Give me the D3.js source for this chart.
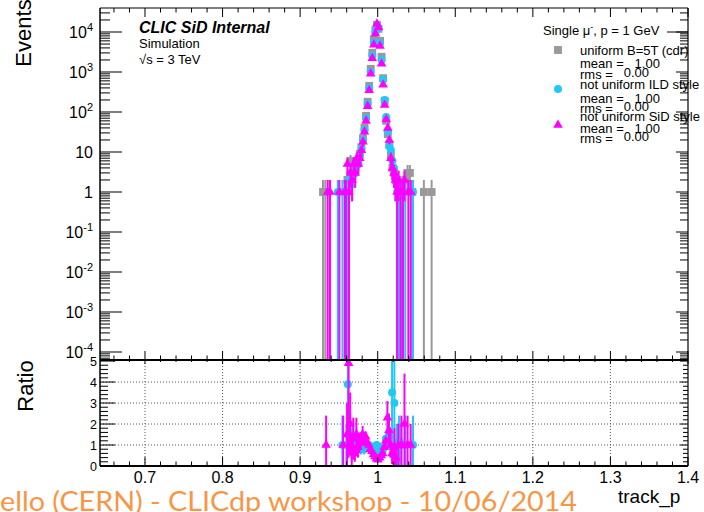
<!DOCTYPE html>
<html><head><meta charset="utf-8">
<script src="https://cdn.jsdelivr.net/npm/d3@7"></script>
<style>
body{margin:0;background:#fff}
svg{display:block}
text{font-family:"Liberation Sans",Arial,Helvetica,sans-serif;white-space:pre}
</style>
</head><body><svg id="c" width="704" height="512"></svg>
<script>
// ---------------- data ----------------
const binCenters = [0.959,0.961,0.963,0.965,0.967,0.969,0.971,0.973,0.975,0.977,
  0.979,0.981,0.983,0.985,0.987,0.989,0.991,0.993,0.995,0.997,0.999,
  1.001,1.003,1.005,1.007,1.009,1.011,1.013,1.015,1.017,1.019,1.021,1.023,1.025,1.027];
const uniformCounts = [1,2,1,6,3,3,4,5,6,9,13,22,40,80,180,450,1200,3000,6500,11000,15000,
  12000,6000,2400,700,190,60,28,15,8,4,3,2,2,1];
const ildCounts = [0,1,2,3,2,3,4,6,5,8,12,20,36,70,160,400,1000,2600,5500,10000,14500,
  12500,5200,2000,650,200,75,32,14,11,6,4,2,1,1];
const sidCounts = [1,5,1,3,2,5,3,7,5,7,11,18,32,60,140,350,900,2200,4800,9000,16000,
  13000,4500,1600,480,150,65,40,20,7,4,3,2,1,2];
const uniformTailP = [0.9295,0.9325,1.0295,1.0325,1.0355,1.0385,1.0415,1.0445,1.0595,1.0695];
const uniformTailN = [1,1,1,1,2,3,3,1,1,1];
const ildTailP = [0.9485,0.9545,1.0305,1.0355,1.0455];
const ildTailN = [1,1,1,1,1];
const sidTailP = [0.9355,0.9385,0.9505,0.9575,1.0295,1.0325,1.0345,1.0395,1.0425];
const sidTailN = [1,1,1,1,1,1,2,1,1];

// ratio panel
const ratioIldP = [0.9545,0.9595,0.9615,0.9645,0.9665,0.9685,0.9705,0.9725,0.9745,0.9765,0.9785,0.9805,0.9825,0.9845,0.9865,0.9885,0.9905,0.9925,0.9945,0.9965,0.9985,1.0005,1.0025,1.0045,1.0065,1.0085,1.0105,1.0125,1.0145,1.0165,1.0185,1.0215,1.0245,1.0275,1.0305,1.0355,1.0455];
const ratioIldR = [1.0,1.0,3.9,1.5,1.0,1.3,0.8,1.2,1.0,1.1,0.9,1.0,0.8,1.1,0.9,1.0,0.95,0.9,0.85,0.9,1.0,0.95,0.7,0.6,0.75,0.9,1.3,1.1,1.5,1.0,3.5,3.0,1.0,1.2,1.0,1.0,1.0];
const ratioIldE = [1.4,1.0,3.5,1.0,0.8,0.7,0.5,0.6,0.5,0.4,0.35,0.3,0.25,0.2,0.15,0.12,0.1,0.08,0.05,0.04,0.03,0.03,0.04,0.05,0.08,0.12,0.2,0.3,0.5,0.6,2.5,2.0,1.0,1.2,1.0,1.4,1.4];
const ratioSidP = [0.9335,0.9555,0.9605,0.9625,0.9645,0.9665,0.9685,0.9705,0.9725,0.9745,0.9765,0.9785,0.9805,0.9825,0.9845,0.9865,0.9885,0.9905,0.9925,0.9945,0.9965,0.9985,1.0005,1.0025,1.0045,1.0065,1.0085,1.0105,1.0125,1.0145,1.0165,1.0185,1.0215,1.0235,1.0265,1.0305,1.0345,1.0385,1.0425];
const ratioSidR = [1.0,1.0,1.5,4.9,2.0,0.8,1.3,0.6,1.5,0.9,1.1,1.2,1.5,1.3,1.4,1.1,1.0,0.8,0.7,0.55,0.45,0.35,0.3,0.4,0.5,0.6,0.9,1.2,2.3,1.7,1.0,0.6,0.9,0.4,1.0,1.0,2.0,1.0,1.0];
const ratioSidE = [1.4,1.4,1.5,4.5,1.5,0.8,1.0,0.4,0.8,0.5,0.5,0.4,0.4,0.3,0.25,0.2,0.15,0.1,0.08,0.05,0.04,0.03,0.04,0.05,0.06,0.08,0.12,0.2,0.8,0.8,0.6,0.5,0.9,0.4,1.0,1.4,2.4,1.4,1.0];

const xTicks = [0.7,0.8,0.9,1.0,1.1,1.2,1.3,1.4];
const xTickLabels = ["0.7","0.8","0.9","1","1.1","1.2","1.3","1.4"];
const yDecades = [-4,-3,-2,-1,0,1,2,3,4];
const yTickBase = ["10","10","10","10","1","10","10","10","10"];
const yTickExp  = ["-4","-3","-2","-1","","","2","3","4"];
const ratioTicks = [0,1,2,3,4,5];
const ratioTickLabels = ["0","1","2","3","4","5"];
const seriesNames = ["uniform B=5T (cdr)","not uniform ILD style","not uniform SiD style"];
const seriesMeans = ["1.00","1.00","1.00"];
const seriesRms = ["0.00","0.00","0.00"];

// ---------------- layout ----------------
const L=100, R=688, T=8, M=360, B=466;
const cGray="#999999", cCyan="#22c8f5", cMag="#ff00ff";
const svg = d3.select("#c");
svg.append("rect").attr("width",704).attr("height",512).attr("fill","#fff");

const x = d3.scaleLinear([0.642,1.4],[L,R]);
const y = d3.scaleLog([Math.pow(10,-4.2),Math.pow(10,4.6)],[M,T]);
const yr = d3.scaleLinear([0,5.05],[B,M]);

const defs = svg.append("defs");
defs.append("clipPath").attr("id","cu").append("rect").attr("x",L).attr("y",T).attr("width",R-L).attr("height",M-T);
defs.append("clipPath").attr("id","cr").append("rect").attr("x",L).attr("y",M).attr("width",R-L).attr("height",B-M);

// ratio grid
const grid = svg.append("g").attr("stroke","#555").attr("stroke-width",1).attr("stroke-dasharray","1,2");
[1,2,3,4].forEach(v=>grid.append("line").attr("x1",L).attr("x2",R).attr("y1",yr(v)).attr("y2",yr(v)));
xTicks.slice(0,-1).forEach(v=>grid.append("line").attr("x1",x(v)).attr("x2",x(v)).attr("y1",M).attr("y2",B));

function symbolPath(kind){
  if(kind==="square") return d3.symbol(d3.symbolSquare,62)();
  if(kind==="circle") return d3.symbol(d3.symbolCircle,50)();
  return d3.symbol(d3.symbolTriangle,40)();
}
const yMin = y.domain()[0];
function drawHist(g, P, N, color, kind){
  const pts = P.map((p,i)=>({p, n:N[i]})).filter(d=>d.n>0);
  g.selectAll(null).data(pts).join("line")
    .attr("x1",d=>x(d.p)).attr("x2",d=>x(d.p))
    .attr("y1",d=>y(d.n+Math.sqrt(d.n)))
    .attr("y2",d=>{const lo=d.n-Math.sqrt(d.n); return lo<=yMin? M : y(lo);})
    .attr("stroke",color).attr("stroke-width",2);
  g.selectAll(null).data(pts).join("path")
    .attr("d",symbolPath(kind))
    .attr("transform",d=>`translate(${x(d.p)},${y(d.n)})`)
    .attr("fill",color);
}
const up = svg.append("g").attr("clip-path","url(#cu)");
const series = [
  {P:binCenters.concat(uniformTailP), N:uniformCounts.concat(uniformTailN), c:cGray, k:"square"},
  {P:binCenters.concat(ildTailP), N:ildCounts.concat(ildTailN), c:cCyan, k:"circle"},
  {P:binCenters.concat(sidTailP), N:sidCounts.concat(sidTailN), c:cMag, k:"triangle"}
];
series.forEach(s=>drawHist(up.append("g"), s.P, s.N, s.c, s.k));

// ratio points
const rg = svg.append("g").attr("clip-path","url(#cr)");
function drawRatio(g,P,Rv,E,color,kind){
  const pts = P.map((p,i)=>({p,r:Rv[i],e:E[i]}));
  g.selectAll(null).data(pts).join("line")
    .attr("x1",d=>x(d.p)).attr("x2",d=>x(d.p))
    .attr("y1",d=>yr(d.r+d.e)).attr("y2",d=>yr(Math.max(0,d.r-d.e)))
    .attr("stroke",color).attr("stroke-width",2);
  g.selectAll(null).data(pts).join("path")
    .attr("d",symbolPath(kind))
    .attr("transform",d=>`translate(${x(d.p)},${yr(d.r)})`)
    .attr("fill",color);
}
drawRatio(rg.append("g"),ratioIldP,ratioIldR,ratioIldE,cCyan,"circle");
drawRatio(rg.append("g"),ratioSidP,ratioSidR,ratioSidE,cMag,"triangle");

// ---------------- axes / frame ----------------
const ax = svg.append("g").attr("stroke","#000").attr("stroke-width",1);
function tick(x1,y1,x2,y2,w){ax.append("line").attr("x1",x1).attr("y1",y1).attr("x2",x2).attr("y2",y2).attr("stroke-width",w||1);}
const xMinor = x.ticks(40);
xMinor.forEach(v=>{
  const major = xTicks.some(t=>Math.abs(t-v)<1e-6);
  const X=x(v);
  tick(X,T,X,T+(major?9:4.5));
  tick(X,M,X,M-(major?9:4.5));
  tick(X,B,X,B-(major?9:4.5));
  tick(X,M,X,M+(major?4:2));
});
for(let d=-5; d<=4; d++){
  for(let k=1;k<=9;k++){
    const v=k*Math.pow(10,d);
    if(v<yMin || v>y.domain()[1]) continue;
    const Y=y(v);
    const major = k===1;
    tick(L,Y,L+(major?22:10),Y);
    tick(R,Y,R-(major?12:8),Y);
  }
}
yr.ticks(25).forEach(v=>{
  if(v>5.001) return;
  const major = ratioTicks.includes(v);
  const Y=yr(v);
  tick(L,Y,L+(major?15:8),Y);
  tick(R,Y,R-(major?8:5),Y);
});
tick(L,T,R,T,1.2);
tick(L,T,L,B,1.5);
tick(R,T,R,B,1.2);
tick(L,M,R,M,2.2);
tick(L,B,R,B,2.2);

// tick labels
const lab = svg.append("g").attr("fill","#000");
yDecades.forEach((d,i)=>{
  const Y=y(Math.pow(10,d));
  const t=lab.append("text").attr("x",93).attr("y",Y+6).attr("text-anchor","end").attr("font-size",16);
  t.append("tspan").text(yTickBase[i]);
  if(yTickExp[i]) t.append("tspan").attr("font-size",11).attr("dy",-7).text(yTickExp[i]);
});
ratioTicks.forEach((v,i)=>{
  lab.append("text").attr("x",97).attr("y",yr(v)+4.5).attr("text-anchor","end").attr("font-size",12.5).text(ratioTickLabels[i]);
});
xTicks.forEach((v,i)=>{
  lab.append("text").attr("x",x(v)).attr("y",483).attr("text-anchor","middle").attr("font-size",16).text(xTickLabels[i]);
});
lab.append("text").attr("transform","translate(31,33) rotate(-90)").attr("text-anchor","middle").attr("font-size",22).text("Events");
lab.append("text").attr("transform","translate(33,386) rotate(-90)").attr("text-anchor","middle").attr("font-size",22).text("Ratio");
lab.append("text").attr("x",618).attr("y",503).attr("font-size",19).text("track_p");

lab.append("text").attr("x",139).attr("y",33).attr("font-size",16).attr("font-weight","bold").attr("font-style","italic").text("CLIC SiD Internal");
lab.append("text").attr("x",139).attr("y",48).attr("font-size",13).text("Simulation");
lab.append("text").attr("x",139).attr("y",64).attr("font-size",13).text("\u221As = 3 TeV");

// legend
const lg = svg.append("g");
const h = lg.append("text").attr("x",543).attr("y",35).attr("font-size",13);
h.append("tspan").text("Single \u03BC");
h.append("tspan").attr("font-size",9).attr("dy",-5).text("-");
h.append("tspan").attr("dy",5).text(", p = 1 GeV");
lg.append("line").attr("x1",667).attr("x2",688).attr("y1",32).attr("y2",32).attr("stroke","#000").attr("stroke-width",1);
const legendRows = [
  {my:50, ty:55, mean:68, rms:79},
  {my:89, ty:89, mean:103, rms:113},
  {my:125, ty:121, mean:133, rms:143}
];
legendRows.forEach((r,i)=>{
  lg.append("path").attr("d",symbolPath(series[i].k)).attr("transform",`translate(558,${r.my})`).attr("fill",series[i].c);
  lg.append("text").attr("x",580).attr("y",r.ty).attr("font-size",13).text(seriesNames[i]);
  lg.append("text").attr("x",580).attr("y",r.mean).attr("font-size",13).text("mean =   "+seriesMeans[i]);
  const t=lg.append("text").attr("x",580).attr("y",r.rms).attr("font-size",13);
  t.append("tspan").text("rms =   ");
  t.append("tspan").attr("dy",-2).text(seriesRms[i]);
});

// slide footer
svg.append("text").attr("x",0).attr("y",511).attr("font-size",27)
  .style("font-family","Lato, 'Open Sans', sans-serif").attr("fill","#f79646")
  .attr("textLength",577).attr("lengthAdjust","spacingAndGlyphs")
  .text("ello (CERN) - CLICdp workshop - 10/06/2014");
</script>
</body></html>
